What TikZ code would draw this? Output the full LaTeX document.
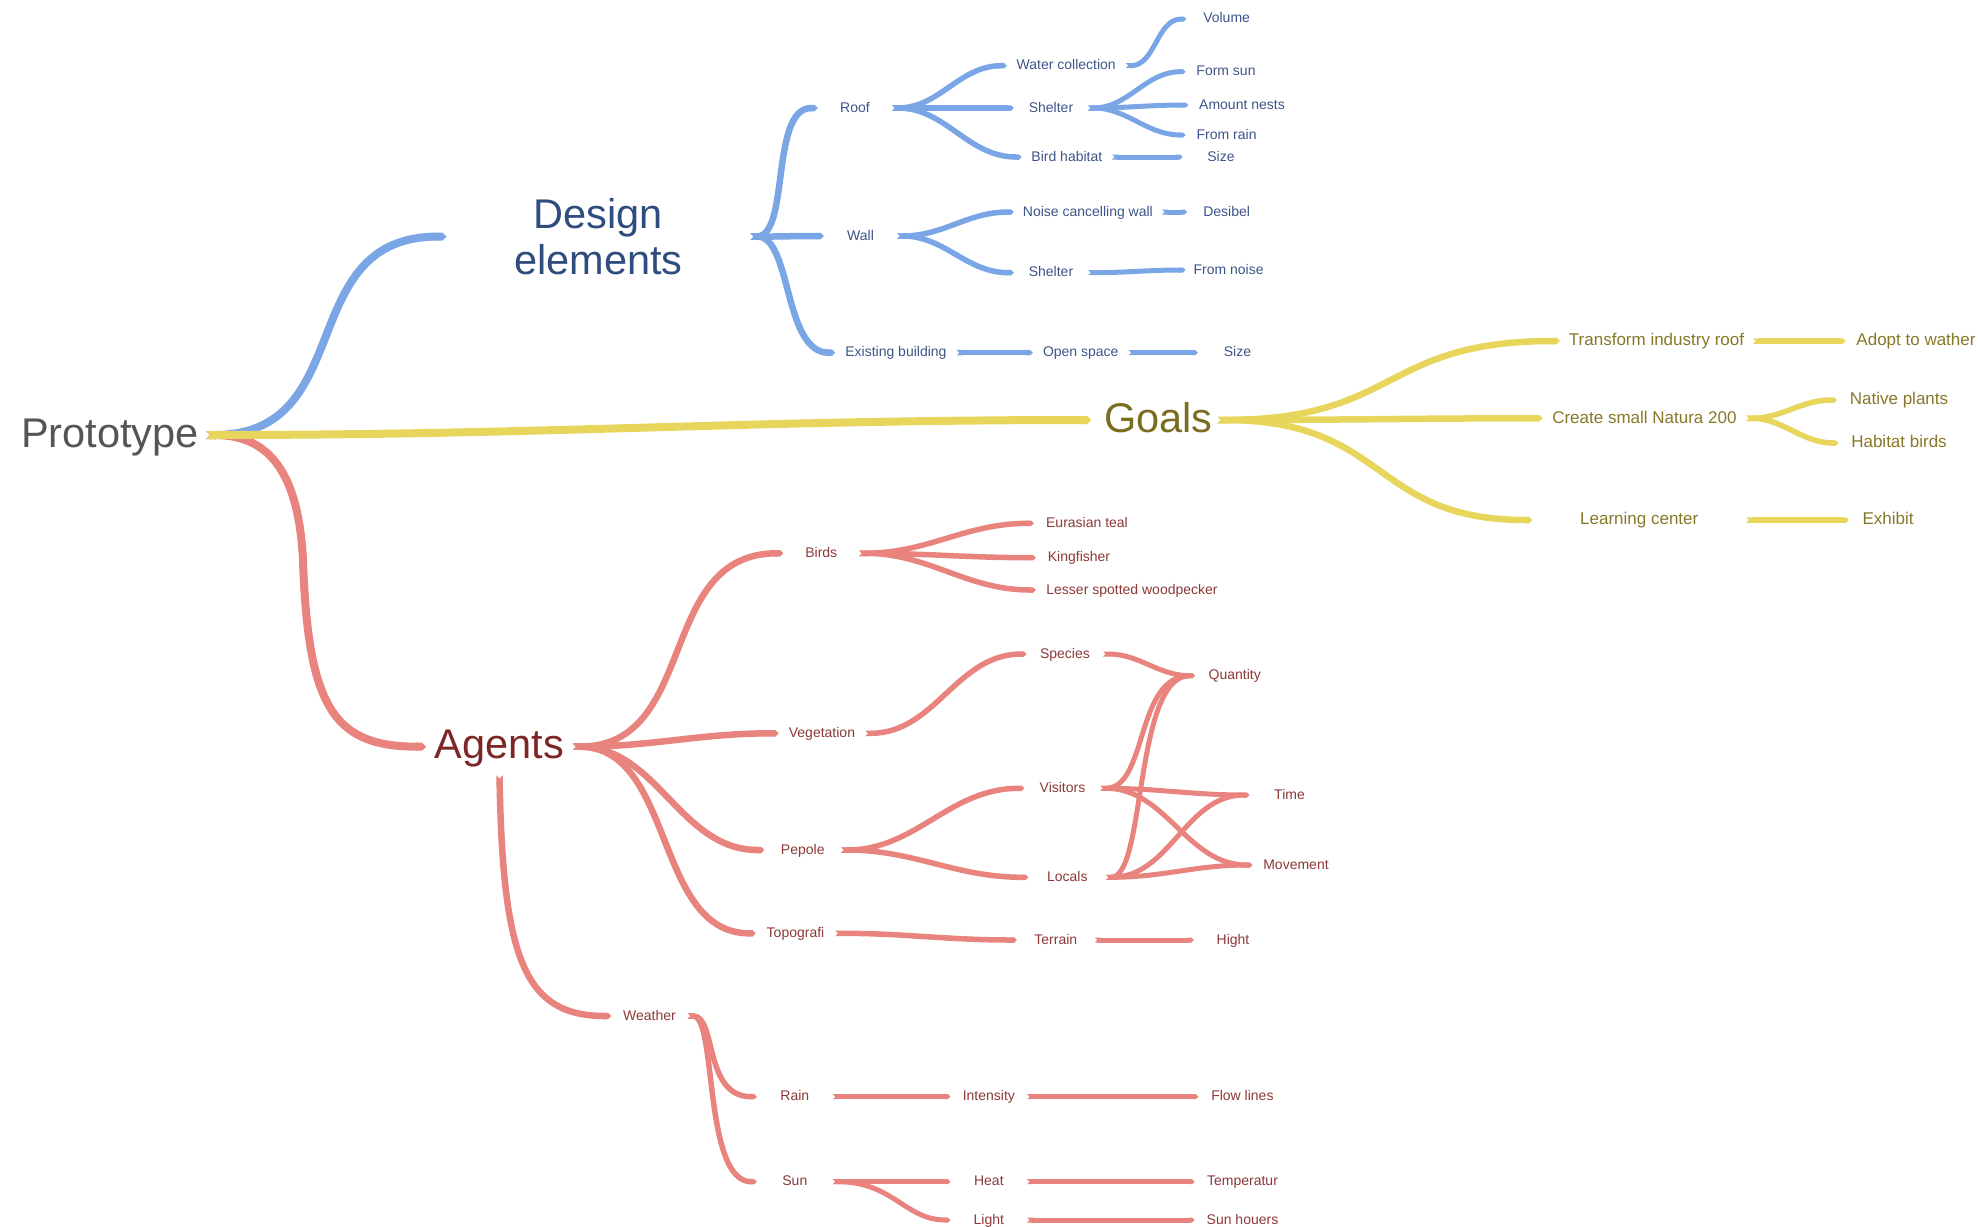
\documentclass[tikz,border=0pt]{standalone}
\usepackage{fontspec}
\setmainfont{Liberation Sans}
\usetikzlibrary{arrows.meta}
\definecolor{cLB}{HTML}{7AA6E6}
\definecolor{cTBd}{HTML}{2F4C7E}
\definecolor{cTB}{HTML}{3D5488}
\definecolor{cLY}{HTML}{E8D55C}
\definecolor{cTYd}{HTML}{7A6D1F}
\definecolor{cTY}{HTML}{867828}
\definecolor{cLR}{HTML}{E8837E}
\definecolor{cTRd}{HTML}{7D2626}
\definecolor{cTR}{HTML}{8C3838}
\definecolor{cTG}{HTML}{555555}
\begin{document}
\begin{tikzpicture}[x=1pt,y=-1pt,
  br/.style={out=0,in=180},
  tipcap/.style={{Triangle Cap[reversed]}-{Triangle Cap[]}},
  c1/.style={tipcap,line width=8pt},
  c2/.style={tipcap,line width=6.5pt},
  c3/.style={tipcap,line width=5.5pt},
  c4/.style={tipcap,line width=5pt},
  sm/.style={inner sep=0pt,font=\fontsize{14}{16}\selectfont,text height=10pt,text depth=2pt},
  md/.style={inner sep=0pt,font=\fontsize{17}{20}\selectfont,text height=12.2pt,text depth=2.4pt},
  bg/.style={inner sep=0pt,font=\fontsize{41.5}{46}\selectfont,text height=30pt,text depth=6pt},
  sb/.style={sm,text=cTB},
  sr/.style={sm,text=cTR},
  my/.style={md,text=cTY}]
\useasboundingbox (0,0) rectangle (1978,1226);

% ---------- main nodes
\node[bg,text=cTG,minimum width=192pt] (proto) at (110,435) {Prototype};
\node[inner sep=0pt,font=\fontsize{41.5}{46}\selectfont,text=cTBd,align=center,minimum width=303.5pt] (design) at (598.5,236.6) {Design\\elements};
\node[bg,text=cTYd,minimum width=126pt] (goals) at (1154.5,420) {\hspace*{8pt}Goals};
\node[bg,text=cTRd,minimum width=146.4pt,inner ysep=10.5pt] (agents) at (499.5,746.7) {Agents};

% ---------- design elements
\node[sb,minimum width=74pt] (roof) at (855,108) {Roof};
\node[sb,minimum width=73pt] (wall) at (860.5,236) {Wall};
\node[sb,minimum width=121pt] (exist) at (895.9,352.7) {Existing building};
\node[sb,minimum width=118.5pt] (water) at (1066.25,65.7) {Water collection};
\node[sb,minimum width=74pt] (shelterA) at (1051,108) {Shelter};
\node[sb,minimum width=90.3pt] (birdhab) at (1066.85,157) {Bird habitat};
\node[sb,minimum width=147.8pt] (noise) at (1087.9,212) {Noise cancelling wall};
\node[sb,minimum width=74pt] (shelterB) at (1051,272.7) {Shelter};
\node[sb,minimum width=95.5pt] (open) at (1080.75,352.7) {Open space};
\node[sb,minimum width=80pt] (volume) at (1226.6,19) {Volume};
\node[sb,minimum width=80.4pt] (formsun) at (1226,71.7) {Form sun};
\node[sb,minimum width=107pt] (nests) at (1242,105) {Amount nests};
\node[sb,minimum width=81.6pt] (fromrain) at (1226.6,135) {From rain};
\node[sb,minimum width=76.6pt] (sizeA) at (1221,157) {Size};
\node[sb,minimum width=78.6pt] (desibel) at (1226.6,212) {Desibel};
\node[sb,minimum width=85.6pt] (fromnoise) at (1228.6,270) {From noise};
\node[sb,minimum width=79pt] (sizeB) at (1237.5,352.7) {Size};

% ---------- goals
\node[my,minimum width=193pt] (transform) at (1656.5,341) {Transform industry roof};
\node[my,minimum width=203.2pt] (create) at (1644.4,418.3) {Create small Natura 200};
\node[my,minimum width=213.5pt] (learning) at (1639.25,520) {Learning center};
\node[my,minimum width=140.6pt] (adopt) at (1916,341) {Adopt to wather};
\node[my,minimum width=124pt] (native) at (1899,400) {Native plants};
\node[my,minimum width=120.2pt] (habitat) at (1899,443) {Habitat birds};
\node[my,minimum width=78pt] (exhibit) at (1888,520) {Exhibit};

% ---------- agents
\node[sr,minimum width=75.5pt] (birds) at (821.25,553.3) {Birds};
\node[sr,minimum width=86.1pt] (veg) at (821.95,733.3) {Vegetation};
\node[sr,minimum width=76.5pt] (pepole) at (802.75,850) {Pepole};
\node[sr,minimum width=79pt] (topo) at (795.5,933.3) {Topografi};
\node[sr,minimum width=106pt] (teal) at (1087,523.3) {Eurasian teal};
\node[sr,minimum width=86pt] (king) at (1079,557.7) {Kingfisher};
\node[sr,minimum width=192pt] (lesser) at (1132,590) {Lesser spotted woodpecker};
\node[sr,minimum width=76.1pt] (species) at (1064.95,654) {Species};
\node[sr,minimum width=79.4pt] (quantity) at (1234.7,675.7) {Quantity};
\node[sr,minimum width=75.8pt] (visitors) at (1062.5,788.3) {Visitors};
\node[sr,minimum width=77.4pt] (locals) at (1067.3,877.3) {Locals};
\node[sr,minimum width=79.8pt] (time) at (1289.5,795) {Time};
\node[sr,minimum width=87pt] (movement) at (1296,865) {Movement};
\node[sr,minimum width=77.6pt] (terrain) at (1055.8,940) {Terrain};
\node[sr,minimum width=78pt] (hight) at (1233,940) {Hight};
\node[sr,minimum width=75.8pt] (weather) at (649.5,1016) {Weather};
\node[sr,minimum width=75.7pt] (rain) at (794.85,1096.7) {Rain};
\node[sr,minimum width=75.7pt] (sun) at (794.85,1181.7) {Sun};
\node[sr,minimum width=76.3pt] (intensity) at (988.85,1096.7) {Intensity};
\node[sr,minimum width=76.3pt] (heat) at (988.85,1181.7) {Heat};
\node[sr,minimum width=76.3pt] (light) at (988.85,1220) {Light};
\node[sr,minimum width=87.6pt] (flow) at (1242.4,1096.7) {Flow lines};
\node[sr,minimum width=95.4pt] (temp) at (1242.5,1181.7) {Temperatur};
\node[sr,minimum width=95.4pt] (sunh) at (1242.5,1220) {Sun houers};

% ---------- connectors: blue
\begin{scope}[draw=cLB]
\draw[c1] (proto.east) .. controls (360,435) and (292,236) .. (design.west);
\draw[c2] (design.east) .. controls (790,236) and (770,108) .. (roof.west);
\draw[c2] (design.east) to[br] (wall.west);
\draw[c2] (design.east) .. controls (792,236) and (783,352.7) .. (exist.west);
\draw[c3] (roof.east) to[br] (water.west);
\draw[c3] (roof.east) to[br] (shelterA.west);
\draw[c3] (roof.east) to[br] (birdhab.west);
\draw[c4] (water.east) to[br] (volume.west);
\draw[c4] (shelterA.east) to[br] (formsun.west);
\draw[c4] (shelterA.east) to[br] (nests.west);
\draw[c4] (shelterA.east) to[br] (fromrain.west);
\draw[c4] (birdhab.east) to[br] (sizeA.west);
\draw[c3] (wall.east) to[br] (noise.west);
\draw[c3] (wall.east) to[br] (shelterB.west);
\draw[c4] (noise.east) to[br] (desibel.west);
\draw[c4] (shelterB.east) to[br] (fromnoise.west);
\draw[c3] (exist.east) to[br] (open.west);
\draw[c4] (open.east) to[br] (sizeB.west);
\end{scope}

% ---------- connectors: red
\begin{scope}[draw=cLR]
\draw[c1] (proto.east) .. controls (260,435) and (298,460) .. (303,560)
   .. controls (308,710) and (335,746.7) .. (agents.west);
\draw[c2] (agents.east) .. controls (700,746.7) and (655,553.3) .. (birds.west);
\draw[c2] (agents.east) to[br] (veg.west);
\draw[c2] (agents.east) to[br] (pepole.west);
\draw[c2] (agents.east) to[br] (topo.west);
\draw[c2] (agents.south) .. controls (503,960) and (525,1016) .. (weather.west);
\draw[c3] (birds.east) to[br] (teal.west);
\draw[c3] (birds.east) to[br] (king.west);
\draw[c3] (birds.east) to[br] (lesser.west);
\draw[c3] (veg.east) to[br] (species.west);
\draw[c4] (species.east) to[br] (quantity.west);
\draw[c3] (pepole.east) to[br] (visitors.west);
\draw[c3] (pepole.east) to[br] (locals.west);
\draw[c4] (visitors.east) .. controls (1148,788.3) and (1135,675.7) .. (quantity.west);
\draw[c4] (visitors.east) to[br] (time.west);
\draw[c4] (visitors.east) to[br] (movement.west);
\draw[c4] (locals.east) .. controls (1146,877.3) and (1134,675.7) .. (quantity.west);
\draw[c4] (locals.east) to[br] (time.west);
\draw[c4] (locals.east) to[br] (movement.west);
\draw[c3] (topo.east) to[br] (terrain.west);
\draw[c4] (terrain.east) to[br] (hight.west);
\draw[c3] (weather.east) .. controls (717,1016) and (703,1096.7) .. (rain.west);
\draw[c3] (weather.east) .. controls (717,1016) and (703,1181.7) .. (sun.west);
\draw[c4] (rain.east) to[br] (intensity.west);
\draw[c4] (intensity.east) to[br] (flow.west);
\draw[c4] (sun.east) to[br] (heat.west);
\draw[c4] (sun.east) .. controls (893,1181.7) and (905,1220) .. (light.west);
\draw[c4] (heat.east) to[br] (temp.west);
\draw[c4] (light.east) to[br] (sunh.west);
\end{scope}

% ---------- connectors: yellow
\begin{scope}[draw=cLY]
\draw[c1] (proto.east) to[br] (goals.west);
\draw[c2] (goals.east) .. controls (1400,420) and (1380,341) .. (transform.west);
\draw[c2] (goals.east) to[br] (create.west);
\draw[c2] (goals.east) .. controls (1390,420) and (1370,520) .. (learning.west);
\draw[c3] (transform.east) to[br] (adopt.west);
\draw[c3] (create.east) to[br] (native.west);
\draw[c3] (create.east) to[br] (habitat.west);
\draw[c3] (learning.east) to[br] (exhibit.west);
\end{scope}
\end{tikzpicture}
\end{document}
